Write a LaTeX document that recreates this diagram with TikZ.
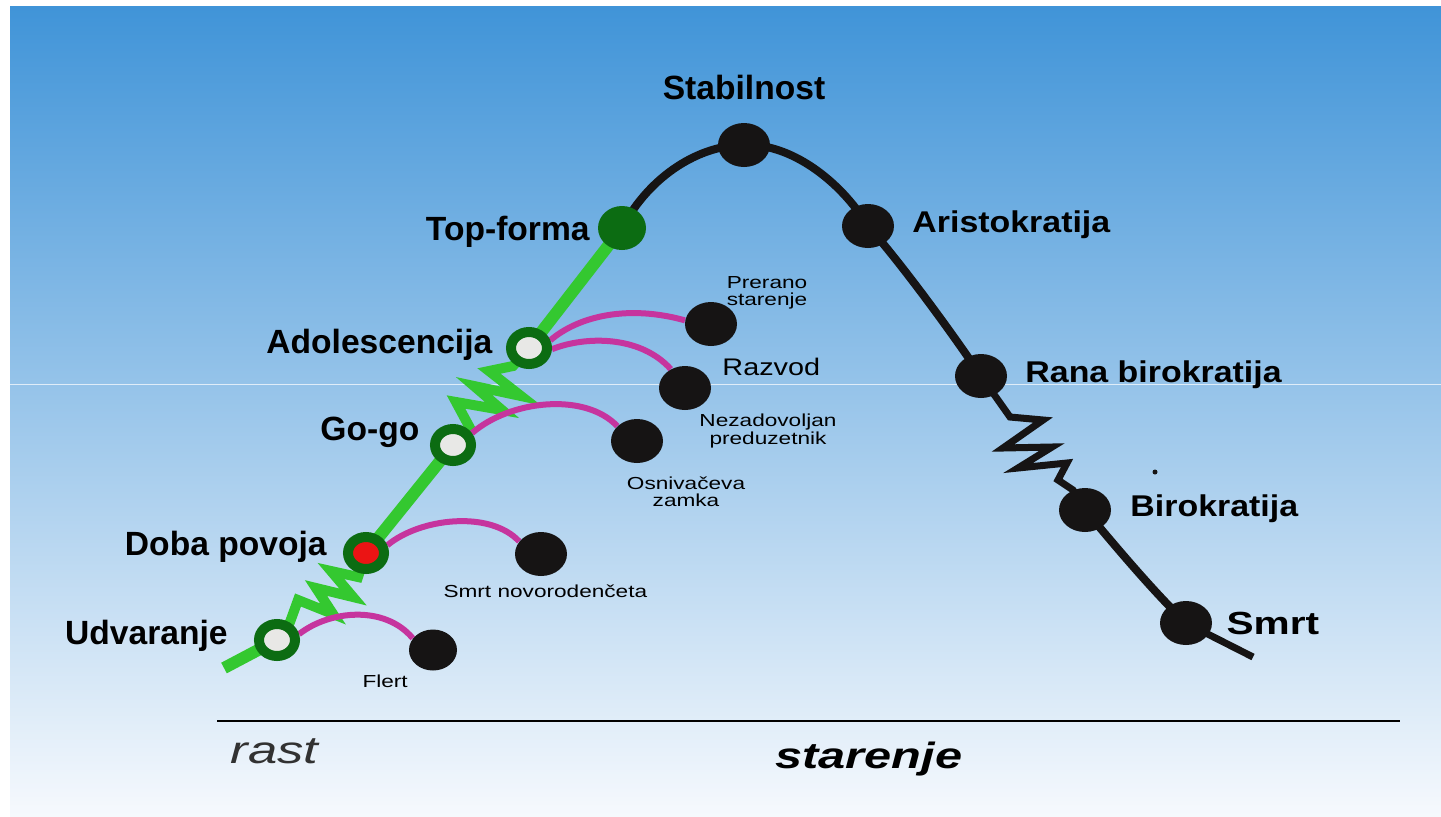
\documentclass[tikz,border=0pt]{standalone}
\usepackage{fontspec}
\setmainfont{Liberation Sans}
\usetikzlibrary{shapes.geometric}
\definecolor{bgtop}{RGB}{64,148,216}
\definecolor{bgmid}{RGB}{150,196,236}
\definecolor{bgbot}{RGB}{246,249,253}
\definecolor{lgreen}{RGB}{52,200,48}
\definecolor{dgreen}{RGB}{12,108,18}
\definecolor{magent}{RGB}{198,52,158}
\definecolor{ballc}{RGB}{22,20,20}
\definecolor{innerw}{RGB}{232,232,230}
\definecolor{redc}{RGB}{235,20,20}
\definecolor{grayt}{RGB}{50,50,50}
\pgfdeclarelayer{bg}
\pgfdeclarelayer{lines}
\pgfsetlayers{bg,lines,main}
\begin{document}
\begin{tikzpicture}[x=0.5pt,y=-0.5pt,
 ring/.style={ellipse,draw=dgreen,line width=5pt,fill=innerw,minimum width=18pt,minimum height=16pt,inner sep=0pt},
 ball/.style={ellipse,fill=ballc,minimum width=26pt,minimum height=22pt,inner sep=0pt},
 bigl/.style={font=\bfseries\fontsize{16.8}{20}\selectfont,inner sep=0pt},
 rightl/.style={font=\bfseries\fontsize{15}{18}\selectfont,inner sep=0pt,xscale=1.13},
 smalll/.style={font=\fontsize{8.7}{8.7}\selectfont,inner sep=0pt,xscale=1.3,align=center},
 gline/.style={draw=lgreen,line width=6pt},
 gzig/.style={draw=lgreen,line width=5pt,line join=miter},
 bline/.style={draw=ballc,line width=4pt},
 bzig/.style={draw=ballc,line width=3.5pt,line join=miter},
 mline/.style={draw=magent,line width=3pt}
]
\useasboundingbox (0,0) rectangle (1441,816);
\begin{pgfonlayer}{bg}
\fill[white] (0,0) rectangle (1441,816);
\shade[top color=bgtop,middle color=bgmid,bottom color=bgbot] (10,6) rectangle (1441,816);
\draw[white,opacity=0.7,line width=0.5pt] (10,384) -- (1441,384);
\end{pgfonlayer}

% stage nodes
\node[ring] (udv) at (277,640) {};
\node[ring,fill=redc] (doba) at (366,553) {};
\node[ring] (gogo) at (453,445) {};
\node[ring] (adol) at (529,348) {};
\node[ellipse,fill=dgreen,minimum width=24pt,minimum height=22pt,inner sep=0pt] (topf) at (622,228) {};
\node[ball] (stab) at (744,145) {};
\node[ball] (aris) at (868,226) {};
\node[ball] (rana) at (981,376) {};
\node[ball] (biro) at (1085,510) {};
\node[ball] (smrt) at (1186,623) {};
% trap nodes
\node[ball,minimum width=24pt,minimum height=20.5pt] (flb) at (433,650) {};
\node[ball] (smb) at (541,554) {};
\node[ball] (osb) at (637,441) {};
\node[ball] (rzb) at (685,388) {};
\node[ball] (prb) at (711,324) {};
\node[circle,fill=ballc,inner sep=0pt,minimum size=2.5pt] (dot) at (1155,472) {};

\coordinate (gstart) at (224,668);
\coordinate (bend) at (1253,657);
\coordinate (axl) at (217,721);
\coordinate (axr) at (1400,721);

\begin{pgfonlayer}{lines}
% green growth line
\draw[gline] (gstart) -- (udv.center);
\draw[gzig] (udv.center) -- (290,622) -- (298,600) -- (333,614) -- (316,588) -- (353,597) -- (331,571) -- (358,577) -- (doba.center);
\draw[gline] (doba.center) -- (gogo.center);
\draw[gzig] (gogo.center) -- (470,428) -- (456,402) -- (502,410) -- (474,386) -- (521,396) -- (489,371) -- (513,366) -- (adol.center);
\draw[gline] (adol.center) -- (topf.center);
% black aging line
\draw[bline] (topf.center) .. controls (650,175) and (700,145) .. (stab.center);
\draw[bline] (stab.center) .. controls (790,143) and (840,180) .. (aris.center);
\draw[bline] (aris.center) .. controls (900,262) and (950,330) .. (rana.center);
\draw[bzig] (rana.center) -- (1010,417) -- (1043,420) -- (1003,448) -- (1052,447) -- (1018,468) -- (1067,463) -- (1058,480) -- (1073,490) -- (biro.center);
\draw[bline] (biro.center) .. controls (1112,542) and (1150,588) .. (smrt.center);
\draw[draw=ballc,line width=3.5pt] (smrt.center) -- (bend);
% magenta traps
\draw[mline] (udv.15) .. controls (330,610) and (385,605) .. (flb.150);
\draw[mline] (doba.20) .. controls (420,518) and (490,510) .. (smb.150);
\draw[mline] (gogo.32) .. controls (510,400) and (585,392) .. (osb.143);
\draw[mline] (adol.-3) .. controls (585,336) and (640,335) .. (rzb.127);
\draw[mline] (adol.20) .. controls (580,315) and (630,305) .. (prb.172);
% axis
\draw[black,line width=1.2pt] (axl) -- (axr);
\end{pgfonlayer}

% labels
\node[bigl,anchor=base] (tstab) at (744,99) {Stabilnost};
\node[bigl,anchor=base east] (ttopf) at (590,240) {Top-forma};
\node[bigl,anchor=base west] (tadol) at (266,353) {Adolescencija};
\node[bigl,anchor=base west] (tgogo) at (320,440) {Go-go};
\node[bigl,anchor=base east] (tdoba) at (327,555) {Doba povoja};
\node[bigl,anchor=base east] (tudv) at (228,644) {Udvaranje};
\node[rightl,anchor=base west] (taris) at (912,232) {Aristokratija};
\node[rightl,anchor=base west] (trana) at (1025,382) {Rana birokratija};
\node[rightl,anchor=base west] (tbiro) at (1130,516) {Birokratija};
\node[font=\bfseries\fontsize{16}{18}\selectfont,inner sep=0pt,xscale=1.27,anchor=base west] (tsmrt) at (1226,634) {Smrt};
\node[smalll] (tpr) at (767,293) {Prerano\\starenje};
\node[font=\fontsize{12}{14}\selectfont,inner sep=0pt,xscale=1.2,anchor=base west] (trz) at (722,375) {Razvod};
\node[smalll] (tnez) at (768,431) {Nezadovoljan\\preduzetnik};
\node[smalll] (tosn) at (686,492) {Osnivačeva\\zamka};
\node[smalll,anchor=base west] (tsmb) at (443,597) {Smrt novorodenčeta};
\node[smalll,anchor=base west] (tfl) at (362,687) {Flert};
\node[font=\itshape\fontsize{19.2}{22}\selectfont,text=grayt,inner sep=0pt,xscale=1.37,anchor=base west] (trast) at (230,763) {rast};
\node[font=\bfseries\itshape\fontsize{18.3}{22}\selectfont,inner sep=0pt,xscale=1.33,anchor=base west] (tstar) at (775,768) {starenje};
\end{tikzpicture}
\end{document}
